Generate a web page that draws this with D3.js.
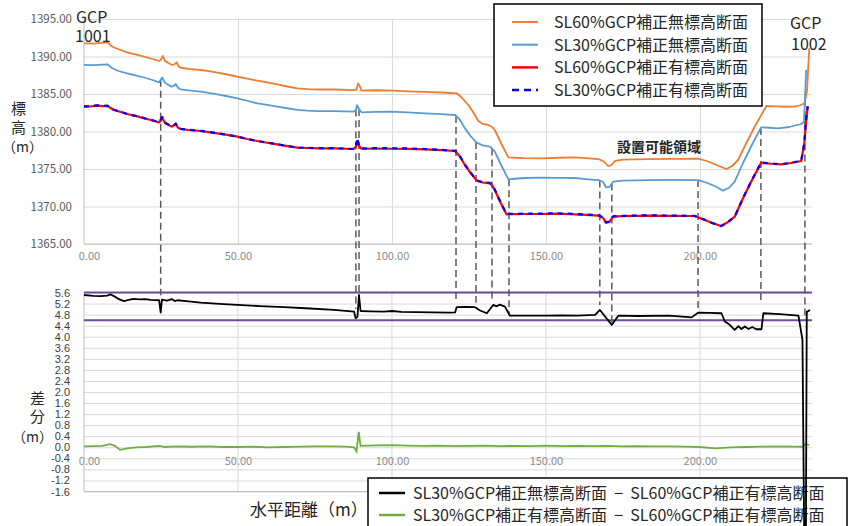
<!DOCTYPE html>
<html>
<head>
<meta charset="utf-8">
<script src="https://cdn.jsdelivr.net/npm/d3@7"></script>
<style>
  body { margin: 0; background: #fff; }
  svg text { font-family: "Noto Sans CJK JP", "Noto Sans", sans-serif; }
</style>
</head>
<body>
<svg id="chart" width="848" height="526"></svg>
<script>
// 標高断面 (上段)
const xOrange = [0, 3, 7.6, 9.2, 11, 14, 17, 19.5, 22, 24.4, 25.0, 25.6, 26.2, 27.5, 28.7, 29.5, 30.1, 30.7, 31.4, 34, 37.9, 40.5, 43.3, 46.5, 49.8, 53, 56.3, 59.5, 62.8, 66, 69.3, 72.5, 75.8, 81.2, 87.4, 88.5, 89.0, 89.6, 90.1, 95, 99.9, 105, 110.7, 116, 121, 122.5, 124.8, 126.5, 128, 129.5, 131.3, 132.5, 133.4, 135.5, 137.8, 140, 143, 148.6, 154, 159.4, 163, 167, 168.8, 170.2, 171.2, 172.4, 175, 183.2, 190, 199.4, 202, 205, 208.6, 210.5, 212.4, 215, 218, 221.6, 225, 228, 230.8, 232.5, 234, 234.8, 235.5];
const sl60NoCorr = [1391.76, 1391.72, 1391.9, 1391.3, 1391.0, 1390.56, 1390.25, 1389.97, 1389.7, 1389.4, 1389.6, 1390.07, 1389.45, 1389.1, 1388.87, 1389.0, 1389.2, 1388.7, 1388.5, 1388.35, 1388.2, 1388.05, 1387.84, 1387.6, 1387.3, 1387.05, 1386.78, 1386.55, 1386.29, 1386.0, 1385.76, 1385.65, 1385.6, 1385.6, 1385.53, 1385.6, 1386.42, 1386.0, 1385.44, 1385.5, 1385.44, 1385.36, 1385.27, 1385.2, 1385.09, 1384.6, 1383.53, 1382.5, 1381.44, 1381.0, 1380.87, 1380.6, 1380.2, 1378.4, 1376.56, 1376.5, 1376.45, 1376.42, 1376.5, 1376.56, 1376.45, 1376.33, 1376.0, 1375.4, 1375.5, 1376.07, 1376.25, 1376.33, 1376.35, 1376.38, 1376.1, 1375.6, 1375.0, 1375.4, 1376.2, 1378.4, 1380.8, 1383.4, 1383.35, 1383.3, 1383.31, 1383.5, 1383.76, 1385.5, 1391.09];

const xLightBlue = [0, 3, 7.6, 9.2, 11, 14, 17, 19.5, 22, 24.4, 24.9, 25.4, 26.0, 26.5, 28.4, 29.2, 29.8, 30.5, 31.4, 34, 37.9, 40.5, 43.3, 46.5, 49.8, 53, 56.3, 59.5, 62.8, 66, 69.3, 72.5, 75.8, 81.2, 87.4, 88.2, 88.7, 89.3, 90.1, 95, 99.9, 105, 110.7, 116, 120.5, 122, 123.7, 125.5, 127.5, 129.5, 131.8, 132.6, 133.4, 135.5, 137.8, 140, 143, 148.6, 154, 159.4, 163, 167, 168.5, 169.5, 170.6, 171.8, 175, 183, 190, 199.4, 202, 205, 207.5, 209.5, 211.3, 214, 217, 219.9, 222.5, 225.3, 229, 232.9, 233.8, 234.5];
const sl30NoCorr = [1388.87, 1388.85, 1388.96, 1388.43, 1388.1, 1387.76, 1387.45, 1387.2, 1386.9, 1386.56, 1386.9, 1387.2, 1386.7, 1386.43, 1385.98, 1386.1, 1386.33, 1385.85, 1385.63, 1385.48, 1385.31, 1385.15, 1384.96, 1384.7, 1384.43, 1384.1, 1383.76, 1383.55, 1383.31, 1383.1, 1382.87, 1382.78, 1382.73, 1382.73, 1382.64, 1382.8, 1383.53, 1383.0, 1382.56, 1382.62, 1382.64, 1382.55, 1382.42, 1382.32, 1382.2, 1381.6, 1380.42, 1379.4, 1378.51, 1378.15, 1377.98, 1377.7, 1377.31, 1375.5, 1373.62, 1373.7, 1373.8, 1373.84, 1373.82, 1373.8, 1373.65, 1373.53, 1373.3, 1372.56, 1372.6, 1373.31, 1373.45, 1373.53, 1373.55, 1373.53, 1373.2, 1372.7, 1372.11, 1372.5, 1373.31, 1375.8, 1378.3, 1380.56, 1380.5, 1380.42, 1380.6, 1381.0, 1381.3, 1388.2];

const xCorr = [0, 2, 4.3, 6, 7.6, 9.7, 12, 14, 17, 19.5, 22, 24.4, 24.9, 25.4, 26.0, 26.5, 28.4, 29.2, 29.8, 30.5, 31.4, 34, 37.9, 40.5, 43.3, 46.5, 49.8, 53, 56.3, 59.5, 62.8, 66, 69.3, 72.5, 75.8, 81.2, 87.4, 88.2, 88.7, 89.3, 90.1, 95, 99.9, 105, 110.7, 116, 120.5, 122, 123.7, 125.5, 127.5, 129.5, 131.8, 132.6, 133.4, 135.3, 137.2, 140, 143, 148.6, 154, 159.4, 163, 167, 168.5, 169.5, 170.6, 171.8, 175, 183, 190, 198.3, 201, 204, 206.9, 209, 211.3, 214, 217, 219.9, 223, 226.4, 229.5, 232.9, 233.9, 234.5, 235];
const sl60Corr = [1383.31, 1383.33, 1383.44, 1383.38, 1383.4, 1382.87, 1382.6, 1382.33, 1382.05, 1381.76, 1381.5, 1381.22, 1381.5, 1381.9, 1381.35, 1381.1, 1380.65, 1380.8, 1381.04, 1380.5, 1380.33, 1380.2, 1380.07, 1379.92, 1379.76, 1379.55, 1379.31, 1379.0, 1378.73, 1378.5, 1378.29, 1378.05, 1377.84, 1377.8, 1377.76, 1377.76, 1377.67, 1377.9, 1378.64, 1378.1, 1377.7, 1377.72, 1377.7, 1377.68, 1377.62, 1377.52, 1377.4, 1376.7, 1375.53, 1374.5, 1373.44, 1373.2, 1373.09, 1372.8, 1372.2, 1370.5, 1368.96, 1368.98, 1369.0, 1369.0, 1369.04, 1368.96, 1368.88, 1368.78, 1368.5, 1367.84, 1367.95, 1368.64, 1368.72, 1368.78, 1368.76, 1368.73, 1368.3, 1367.8, 1367.4, 1367.9, 1368.64, 1371.1, 1373.6, 1375.84, 1375.7, 1375.62, 1375.8, 1376.07, 1378.42, 1381.5, 1383.31];
const sl30Corr = [1383.34, 1383.37, 1383.5, 1383.42, 1383.45, 1382.9, 1382.62, 1382.33, 1382.06, 1381.79, 1381.52, 1381.26, 1381.54, 1381.93, 1381.38, 1381.14, 1380.68, 1380.83, 1381.06, 1380.53, 1380.36, 1380.22, 1380.09, 1379.94, 1379.78, 1379.56, 1379.32, 1379.01, 1378.74, 1378.51, 1378.3, 1378.07, 1377.86, 1377.82, 1377.79, 1377.79, 1377.67, 1377.75, 1379.15, 1378.15, 1377.75, 1377.78, 1377.77, 1377.74, 1377.67, 1377.55, 1377.43, 1376.75, 1375.58, 1374.55, 1373.48, 1373.25, 1373.14, 1372.84, 1372.25, 1370.54, 1369.0, 1369.02, 1369.05, 1369.06, 1369.09, 1369.01, 1368.93, 1368.83, 1368.55, 1367.89, 1368.0, 1368.69, 1368.76, 1368.82, 1368.79, 1368.75, 1368.32, 1367.79, 1367.38, 1367.88, 1368.64, 1371.12, 1373.62, 1375.87, 1375.72, 1375.64, 1375.82, 1376.09, 1378.45, 1381.6, 1383.38];

// 差分 (下段)
const xDiffBlack = [0, 3, 5.4, 7.5, 8.7, 10, 11.5, 13, 14.5, 16.2, 18, 20, 21.6, 24.4, 24.9, 25.3, 27, 28.5, 29.5, 30.3, 34, 37.9, 44, 49.8, 57, 64.9, 72, 81.2, 87.7, 88.2, 88.8, 89.3, 89.8, 93, 97.4, 100, 103, 108, 113, 119, 120.5, 121, 124, 127, 128.6, 130.8, 132.9, 134, 135, 136.7, 138.3, 143, 149.7, 155, 160, 166, 167.5, 169.2, 171.4, 173.5, 180, 190, 197.3, 199.4, 203, 207, 208.1, 209.5, 211.3, 212.5, 213.5, 214.6, 215.8, 217, 218.3, 220, 220.6, 226, 232, 233.3, 233.9, 234.4, 234.7, 235.8];
const diffNoCorr = [5.51, 5.48, 5.47, 5.49, 5.53, 5.45, 5.35, 5.29, 5.33, 5.37, 5.35, 5.36, 5.33, 5.32, 4.87, 5.34, 5.31, 5.36, 5.29, 5.32, 5.28, 5.23, 5.19, 5.15, 5.11, 5.07, 5.03, 4.97, 4.91, 4.67, 4.72, 5.51, 4.93, 4.92, 4.91, 4.93, 4.90, 4.89, 4.88, 4.87, 4.88, 5.07, 5.08, 5.07, 4.95, 4.85, 5.15, 5.10, 5.16, 5.09, 4.76, 4.76, 4.76, 4.77, 4.76, 4.79, 4.97, 4.73, 4.43, 4.76, 4.75, 4.76, 4.70, 4.87, 4.86, 4.85, 4.55, 4.45, 4.25, 4.38, 4.28, 4.37, 4.28, 4.35, 4.27, 4.27, 4.85, 4.82, 4.76, 3.89, -3.6, -3.6, 4.9, 4.97];

const xDiffGreen = [0, 3, 6, 8.4, 10, 11.7, 14, 17, 20, 24.8, 26, 30, 35, 40, 45, 50, 55, 60, 65, 70, 75, 80, 85, 87.7, 88.5, 89.2, 89.8, 92, 95, 100, 105, 110, 115, 120, 125, 130, 135, 140, 145, 150, 155, 160, 165, 170, 175, 180, 185, 190, 195, 200, 205, 210, 215, 220, 225, 230, 233.5, 234.2, 235.5];
const diffCorr = [0.03, 0.04, 0.05, 0.11, 0.05, -0.09, -0.04, 0.0, 0.01, 0.05, 0.01, 0.03, 0.02, 0.03, 0.01, 0.01, 0.02, 0.0, 0.01, 0.02, 0.03, 0.03, 0.02, 0.0, -0.15, 0.56, 0.05, 0.06, 0.07, 0.08, 0.06, 0.05, 0.06, 0.04, 0.05, 0.06, 0.04, 0.05, 0.04, 0.06, 0.04, 0.05, 0.04, 0.05, 0.03, 0.04, 0.03, 0.03, 0.02, 0.01, -0.04, 0.0, 0.01, 0.02, 0.03, 0.02, 0.02, 0.12, 0.08];

// 区切り線 (破線) の位置と下端の差分値
const guideX = [24.9, 88.3, 89.3, 120.8, 127.3, 132.5, 138.0, 167.5, 171.4, 199.4, 219.8, 234.1];
const guideEnd = [5.5, 5.0, 5.45, 5.23, 5.23, 5.36, 4.79, 5.15, 4.42, 4.86, 5.26, 4.6];

// 目盛
const xTicks = [0, 50, 100, 150, 200];
const topTicks = [1365, 1370, 1375, 1380, 1385, 1390, 1395];
const bottomTicks = [-1.6, -1.2, -0.8, -0.4, 0.0, 0.4, 0.8, 1.2, 1.6, 2.0, 2.4, 2.8, 3.2, 3.6, 4.0, 4.4, 4.8, 5.2, 5.6];
const limitLines = [5.6, 4.6];

const topLegend = [
  {label: "SL60%GCP補正無標高断面", color: "#ed7d31", dash: null, w: 2},
  {label: "SL30%GCP補正無標高断面", color: "#5b9bd5", dash: null, w: 2},
  {label: "SL60%GCP補正有標高断面", color: "#ff0000", dash: null, w: 2.5},
  {label: "SL30%GCP補正有標高断面", color: "#0000ff", dash: "7,5", w: 2.5}
];
const bottomLegend = [
  {label: "SL30%GCP補正無標高断面  −  SL60%GCP補正有標高断面", color: "#000000"},
  {label: "SL30%GCP補正有標高断面  −  SL60%GCP補正有標高断面", color: "#70ad47"}
];

const svg = d3.select("#chart");
const left = 84, right = 812;

const x = d3.scaleLinear().domain([0, 236.4]).range([left, right]);
const yTop = d3.scaleLinear().domain([1365, 1395]).range([244, 19]);
const yBot = d3.scaleLinear().domain([-1.6, 5.6]).range([491.5, 292.5]);

const pairs = (xs, ys) => xs.map((d, i) => [d, ys[i]]);
function interp(xs, ys, v) {
  const i = Math.max(1, Math.min(xs.length - 1, d3.bisectLeft(xs, v)));
  const t = (v - xs[i - 1]) / (xs[i] - xs[i - 1]);
  return ys[i - 1] + t * (ys[i] - ys[i - 1]);
}

// ---- 上段グリッドと軸
const gTop = svg.append("g");
gTop.append("g")
  .attr("transform", `translate(${left},0)`)
  .call(d3.axisLeft(yTop).tickValues(topTicks).tickSize(-(right - left)).tickPadding(12)
    .tickFormat(d => d.toFixed(2)))
  .call(g => g.select(".domain").remove())
  .call(g => g.selectAll(".tick line").attr("stroke", "#d9d9d9"))
  .call(g => g.selectAll(".tick text").attr("fill", "#595959").style("font-size", "11.5px"));

gTop.append("g")
  .attr("transform", "translate(0,244)")
  .call(d3.axisBottom(x).tickValues(xTicks).tickSize(-(244 - 19)).tickPadding(8)
    .tickFormat(d => d.toFixed(2)))
  .call(g => g.select(".domain").remove())
  .call(g => g.selectAll(".tick line").attr("stroke", (d) => d === 0 ? "none" : "#d9d9d9"))
  .call(g => g.selectAll(".tick text").attr("fill", "#8c8c8c").style("font-size", "11px")
    .attr("dx", d => d === 0 ? 5 : 0));

gTop.append("line").attr("x1", left).attr("x2", left).attr("y1", 19).attr("y2", 244).attr("stroke", "#bfbfbf");
gTop.append("line").attr("x1", left).attr("x2", right).attr("y1", 244).attr("y2", 244).attr("stroke", "#bfbfbf");

// ---- 下段グリッドと軸
const gBot = svg.append("g");
gBot.append("g")
  .attr("transform", `translate(${left},0)`)
  .call(d3.axisLeft(yBot).tickValues(bottomTicks).tickSize(-(right - left)).tickPadding(14)
    .tickFormat(d => d.toFixed(1)))
  .call(g => g.select(".domain").remove())
  .call(g => g.selectAll(".tick line").attr("stroke", "#d9d9d9"))
  .call(g => g.selectAll(".tick text").attr("fill", "#404040").style("font-size", "11px")
    .style("font-family", "'Liberation Sans', sans-serif"));

gBot.selectAll(".vgrid").data(xTicks.filter(d => d > 0)).join("line")
  .attr("x1", d => x(d)).attr("x2", d => x(d))
  .attr("y1", yBot(5.6)).attr("y2", yBot(-1.6))
  .attr("stroke", "#d9d9d9");

gBot.append("g")
  .attr("transform", `translate(0,${yBot(0)})`)
  .call(d3.axisBottom(x).tickValues(xTicks).tickSize(0).tickPadding(10)
    .tickFormat(d => d.toFixed(2)))
  .call(g => g.select(".domain").remove())
  .call(g => g.selectAll(".tick text").attr("fill", "#8c8c8c").style("font-size", "11px")
    .attr("dx", d => d === 0 ? 5 : 0));

gBot.append("line").attr("x1", left).attr("x2", left).attr("y1", yBot(5.6)).attr("y2", yBot(-1.6)).attr("stroke", "#bfbfbf");
gBot.append("line").attr("x1", left).attr("x2", right).attr("y1", yBot(-1.6)).attr("y2", yBot(-1.6)).attr("stroke", "#bfbfbf");

// 許容範囲の線
gBot.selectAll(".limit").data(limitLines).join("line")
  .attr("x1", left).attr("x2", right)
  .attr("y1", d => yBot(d)).attr("y2", d => yBot(d))
  .attr("stroke", "#6b4c9a").attr("stroke-width", 2);

// ---- 区切り破線
svg.selectAll(".guide").data(guideX).join("line")
  .attr("x1", d => x(d)).attr("x2", d => x(d))
  .attr("y1", d => yTop(interp(xLightBlue, sl30NoCorr, d)))
  .attr("y2", (d, i) => yBot(guideEnd[i]))
  .attr("stroke", "#595959").attr("stroke-width", 1.5).attr("stroke-dasharray", "7,4");

// ---- 下段凡例 (線より下に)
const lgB = svg.append("g");
lgB.append("rect").attr("x", 368).attr("y", 478).attr("width", 479).attr("height", 60)
  .attr("fill", "#fff").attr("stroke", "#000").attr("stroke-width", 1.5);
bottomLegend.forEach((d, i) => {
  const yy = 493 + i * 22;
  lgB.append("line").attr("x1", 379).attr("x2", 405).attr("y1", yy).attr("y2", yy)
    .attr("stroke", d.color).attr("stroke-width", 2.5);
  lgB.append("text").attr("x", 413).attr("y", yy + 6).text(d.label)
    .attr("fill", "#262626").style("font-size", "16px").style("white-space", "pre");
});

// ---- 線
const lineTop = d3.line().x(d => x(d[0])).y(d => yTop(d[1]));
const lineBot = d3.line().x(d => x(d[0])).y(d => yBot(d[1]));

const topSeries = [
  {data: pairs(xOrange, sl60NoCorr), color: "#ed7d31", w: 1.8, dash: null},
  {data: pairs(xLightBlue, sl30NoCorr), color: "#5b9bd5", w: 1.8, dash: null},
  {data: pairs(xCorr, sl60Corr), color: "#ff0000", w: 2.2, dash: null},
  {data: pairs(xCorr, sl30Corr), color: "#0000ff", w: 2.2, dash: "5,5"}
];
svg.append("g").selectAll("path").data(topSeries).join("path")
  .attr("d", d => lineTop(d.data))
  .attr("fill", "none").attr("stroke", d => d.color).attr("stroke-width", d => d.w)
  .attr("stroke-dasharray", d => d.dash).attr("stroke-linejoin", "round");

svg.append("path").datum(pairs(xDiffGreen, diffCorr))
  .attr("d", lineBot).attr("fill", "none").attr("stroke", "#70ad47").attr("stroke-width", 1.8);
svg.append("path").datum(pairs(xDiffBlack, diffNoCorr))
  .attr("d", lineBot).attr("fill", "none").attr("stroke", "#000").attr("stroke-width", 1.8)
  .attr("stroke-linejoin", "round");

// ---- 上段凡例
const lgT = svg.append("g");
lgT.append("rect").attr("x", 494).attr("y", 4).attr("width", 268).attr("height", 102)
  .attr("fill", "#fff").attr("stroke", "#000").attr("stroke-width", 1.5);
topLegend.forEach((d, i) => {
  const yy = 22 + i * 22.7;
  lgT.append("line").attr("x1", 512).attr("x2", 538).attr("y1", yy).attr("y2", yy)
    .attr("stroke", d.color).attr("stroke-width", d.w).attr("stroke-dasharray", d.dash);
  lgT.append("text").attr("x", 554).attr("y", yy + 6).text(d.label)
    .attr("fill", "#262626").style("font-size", "16px");
});

// ---- 注記・軸タイトル
const note = (t, xx, yy, size, extra) => svg.append("text").attr("x", xx).attr("y", yy)
  .text(t).attr("fill", "#262626").style("font-size", size + "px").call(s => extra && extra(s));

note("GCP", 76, 23, 16);
note("1001", 75, 42, 16);
note("GCP", 790, 29, 16);
note("1002", 791, 50, 16);
note("設置可能領域", 617, 152, 14, s => s.style("font-weight", "bold"));

note("標", 11, 114, 15);
note("高", 11, 133, 15);
note("（m）", 2, 152, 14);
note("差", 30, 404, 15);
note("分", 30, 422, 15);
note("（m）", 12, 442, 14);
note("水平距離（m）", 250, 516, 17);
</script>
</body>
</html>
